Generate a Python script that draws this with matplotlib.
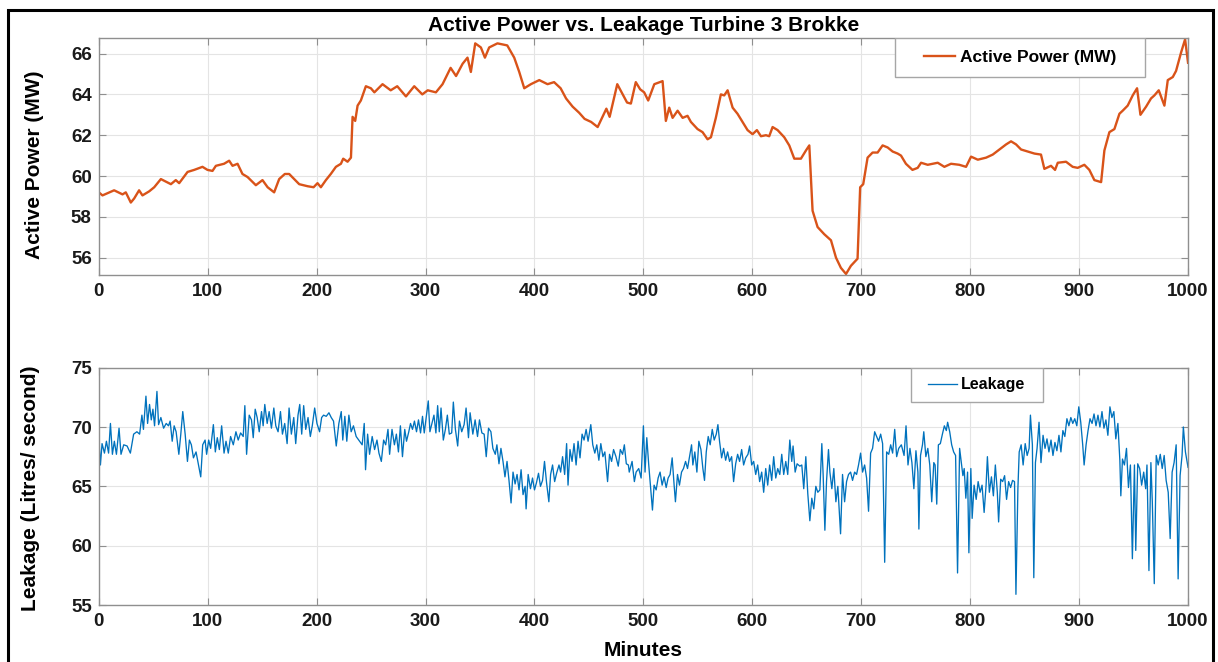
import matplotlib
matplotlib.use("Agg")
import matplotlib.pyplot as plt
from matplotlib.patches import Rectangle

# active power
power_t = [0, 3.4, 14.1, 21.8, 24.8, 29.4, 32.5, 37, 40.1, 46.3, 50.9, 57, 66.2, 70.7, 73.8,
           81.5, 87.6, 95.2, 99.8, 104.4, 107.5, 115, 119.7, 122.8, 127.4, 131.9, 136.6, 144.2,
           150.3, 155, 161, 165.6, 170.8, 174.8, 179.4, 184, 191.7, 197.2, 200.8, 203.9, 208.5,
           213, 217.7, 222.3, 224.4, 228.4, 231.5, 233, 235.4, 237.6, 240.6, 245.2, 249.8,
           253, 260.5, 268, 274, 282, 289.6, 297, 302, 309.5, 315.6, 323, 328, 334, 338.5,
           341.6, 345.6, 350.8, 354.5, 358.4, 366, 375, 381.4, 386, 390.6, 396.7, 404.4, 412,
           418, 424, 429, 435, 441, 446, 452, 458, 466, 469, 476, 485,
           488.5, 493, 497, 500.7, 504.4, 510, 517.6, 520.6, 523.7, 526.8, 531.4, 536, 540.5,
           543.6, 549.7, 554.3, 558.9, 562, 566.5, 571.1, 574.2, 577.3, 581.9, 586.4, 591,
           595.6, 600.2, 604.2, 607.9, 612.5, 615.5, 618.6, 623.2, 629.3, 633.9, 638.5, 644.6,
           649.2, 652.3, 655.3, 659.9, 666, 672.2, 676.8, 681.3, 686, 690.5, 696.6, 699, 701.8,
           705.8, 710.4, 715, 719.6, 724.2, 728.8, 733.4,
           736.5, 741, 747, 751.8, 754.9, 761, 770.2, 776.3, 782.4, 790, 796.2, 800.8, 807,
           814.6, 820.7, 826.8, 833, 837.5, 842.1, 846.7, 852.8, 859, 865, 868.1, 874.2, 877.9,
           880.4, 888, 894.1, 898.7, 904.8, 909.4, 914, 920.2, 923.2, 927.8, 932.4, 937, 940,
           944.6, 949.2, 953.2, 956.3, 961.5, 966, 969.1, 973.1, 978.3, 981.4, 986, 989, 993.6,
           997.3, 1000]
power_mw = [59.2, 59.05, 59.3, 59.1, 59.2, 58.7, 58.9, 59.3, 59.05, 59.25, 59.45, 59.85, 59.6, 59.8, 59.65,
            60.2, 60.3, 60.45, 60.3, 60.25, 60.5, 60.6, 60.75, 60.5, 60.6, 60.1, 59.95, 59.55,
            59.8, 59.45, 59.2, 59.85, 60.1, 60.1, 59.85, 59.6, 59.5, 59.45, 59.65, 59.45, 59.8,
            60.1, 60.45, 60.6, 60.85, 60.7, 60.9, 62.9, 62.7, 63.45, 63.7, 64.4, 64.3,
            64.1, 64.5, 64.2, 64.4, 63.9, 64.4, 64.0, 64.2, 64.1, 64.5, 65.3, 64.9, 65.5, 65.8,
            65.1, 66.5, 66.3, 65.8, 66.3, 66.5, 66.4, 65.8, 65.1, 64.3, 64.5, 64.7, 64.5,
            64.6, 64.3, 63.8, 63.4, 63.1, 62.8, 62.65, 62.4, 63.3, 62.9, 64.5, 63.6,
            63.55, 64.6, 64.25, 64.1, 63.7, 64.5, 64.65, 62.7, 63.35, 62.85, 63.2, 62.85, 62.95,
            62.65, 62.3, 62.15, 61.8, 61.9, 62.85, 64.0, 63.95, 64.2, 63.35, 63.05, 62.65,
            62.25, 62.05, 62.25, 61.95, 62.0, 61.95, 62.4, 62.25, 61.9, 61.5, 60.85, 60.85,
            61.25, 61.5, 58.3, 57.5, 57.15, 56.85, 56.0, 55.5, 55.2, 55.6, 55.95, 59.45, 59.6,
            60.9, 61.15, 61.15, 61.5, 61.4, 61.2, 61.1,
            61.0, 60.6, 60.3, 60.4, 60.65, 60.55, 60.65, 60.45, 60.6, 60.55, 60.45, 60.95, 60.8,
            60.9, 61.05, 61.3, 61.55, 61.7, 61.55, 61.3, 61.2, 61.1, 61.05, 60.35, 60.5, 60.3,
            60.65, 60.7, 60.45, 60.4, 60.55, 60.3, 59.8, 59.7, 61.25, 62.15, 62.3, 63.05, 63.2,
            63.45, 63.95, 64.3, 63.0, 63.4, 63.8, 63.95, 64.2, 63.45, 64.7, 64.85, 65.15, 66.05,
            66.7, 65.55]

# leakage
leak_t = [0, 1.5, 3, 5.2, 7, 9, 10.7, 12.5, 14.3, 16.2, 18.6, 20.4, 22.9, 26, 29, 32, 35, 37.5,
          39.6, 41, 43.3, 44.8, 46.6, 48.2, 49.7, 51.2, 53.4, 54.9, 57, 59.5, 61.9, 64, 65.5,
          67.4, 69.2, 71, 73.5, 75.3, 77.1, 79.3, 81.4, 83.2, 85, 86.9, 89.3, 91.5, 93.6, 95.4,
          97.6, 99, 100.9, 102.7, 105.2, 107, 108.8, 110.7, 112.8, 115, 116.8, 118.9, 121,
          123.5, 125.9, 128, 130.2, 132.6, 134.1, 135.7, 138.1, 140.2, 141.8, 143.6, 145.4,
          147.3, 149.4, 150.9, 152.4, 154.6, 156.4, 158.5, 160.7, 162.5, 164.6, 166.8, 168.6,
          170.7, 172.9, 174.7, 176.8, 179, 180.8, 182.9, 184.5, 186.3, 188.1, 190, 192.1,
          194.2, 196, 198.2, 200.3, 202.7, 204.6, 206.4, 208.8, 211.3, 213.4, 215.5, 218,
          220.4, 222.6, 224, 225.9, 227.7, 229.6, 231.7, 233.8, 236.3,
          239.4, 241.8, 243.7, 244.9, 246.8, 248.6, 251, 253.2, 255.4, 257.2, 259.4, 261.5,
          263.4, 265.5, 267, 269.2, 271.4, 273.2, 275.1, 276.9, 278.8, 280.9, 282.5, 284.6,
          286.2, 288, 289.8, 291.7, 293.5, 295.4, 297.2, 298.8, 300.3, 302.5, 304, 305.8,
          307.7, 309.5, 311.1, 312.6, 314.2, 316.3, 318.2, 320, 321.8, 324, 325.5, 327.4,
          329.5, 331.1, 333.2, 335.4, 337.2, 339.4, 340.9, 343.4, 345.5, 347.7, 349.5, 351.7,
          353.8, 355.7, 357.8, 360, 361.8, 364, 365.5, 367.4, 369.2, 371.1, 372.9, 374.8,
          376.6, 378.5, 380.3, 382.2, 384, 385.8, 387.7, 389.5, 391.4, 392.3, 394.2, 396.3,
          398.2, 400, 401.8, 403.7, 405.5, 407.4, 409.2, 411.1, 413.2, 414.8, 416.6, 418.5,
          420.3, 422.5, 424, 425.8, 427.7, 429.5, 430.8, 432.6, 434.5, 436.3, 438.2, 440,
          441.8, 443.7, 445.5, 447.4, 449.2, 451.7, 453.5, 455.4, 457.2, 459.1, 460.9, 462.8,
          464.6, 467.1, 468.9, 470.8, 472.6, 474.8, 476.9, 478.8, 480.9, 482.5, 484.3, 486.2,
          487, 489.6, 491.7, 493.3, 495.7, 497.9, 500, 501.5, 503.1, 504.9, 506.4, 508.3,
          509.8, 511.7, 513.5, 515.3, 517.2, 519, 520.9, 522.7, 524.5, 526.4, 528.2, 529.4,
          531.3, 533.1, 535, 536.8, 538.7, 540.5, 542.3, 544.2, 545.4, 547.2, 549.1, 550.9,
          552.8, 554.6, 556.1, 557.7, 559.5, 561.3, 563.2, 565, 566.9, 568.4, 569.9, 571.8,
          573.6, 575.5, 577.3, 579.1, 581, 582.8, 584.7, 586.5, 588.3, 590.2, 592, 593.9, 596,
          597.5, 599.4, 601.2, 603.1, 604.9, 606.7, 608.6, 610.4, 612.3, 614.1, 615.9, 617.8,
          619.6, 621.5, 623.3, 625.2, 627, 628.8, 630.7, 632.5, 634.4, 636.2, 637.4, 639.3,
          641.1, 643.6, 645.4, 647.2, 649.1, 650.9, 652.8, 654.6, 656.4, 658.3, 660.1, 662,
          663.8, 665, 666.6, 668.1, 669.9, 671.2, 673, 674.8, 676.7, 678.5, 681, 682.8, 684.7,
          686.5, 688.3, 690.2, 692, 693.9, 695.7, 697.5, 699.4, 701.2, 703.1, 704.9, 706.7,
          708.6, 710.4, 712.3, 714.1, 715.9, 717.8, 719.6, 721.5, 723.3, 725.2, 727, 728.8,
          730.7, 732.5, 734.4,
          736.8, 739.3, 741.1, 742.9, 744.7, 746.5, 748.3, 750.2, 752, 752.9, 754.4, 756.2,
          757.4, 759.3, 761.1, 762.9, 764.7, 766.6, 767.8, 769.3, 770.8, 772.6, 774.5, 776.3,
          778.1, 779.3, 781.2, 783, 784.8, 786.6, 788.4, 790.3, 791.5, 793.3, 794.5, 796,
          797.6, 798.8, 800.6, 801.8, 803.6, 805.5, 807.3, 809.1, 810.9, 812.8, 814.6, 815.8,
          817.6, 819.5, 821.3, 823.1, 824.9, 826.1, 828, 829.8, 831.6, 833.4, 835.3, 837.1,
          838.9, 840.7, 842, 843.8, 845, 846.8, 848.6, 850.5, 852.3, 854.1, 855.3, 857.1,
          858.4, 859.9, 861.4, 863.2, 865, 866.9, 868.7, 870.5, 872.3, 874.2, 876, 877.8,
          879.6, 881.5, 883.3, 885.1, 886.9, 888.8, 890.6, 892.4, 894.2, 896, 897.9, 899.7,
          901.5, 903.3, 904.6, 906.4, 908.2, 910, 911.9, 913.7, 915.5, 917.3, 919.1, 921,
          922.8, 924.6, 926.4, 928.3, 930.1, 931.9, 933.7, 935.6, 937.4, 938.3, 939.8, 941.6,
          943.5, 945.3, 947.1, 948.9, 950.8, 952, 953.8, 955.6, 957.4, 959.3, 961.1, 962.3,
          964.1, 965.9, 967.2, 969, 970.8, 972.6, 974.5, 976.3, 978.1, 979.9, 981.8, 983.6,
          985.4, 987.2, 989.1, 990.9, 992.7, 994.5, 995.7, 997.6, 1000]
leak_lps = [69.2, 66.8, 68.6, 67.8, 68.8, 67.8, 70.3, 67.7, 68.8, 67.7, 69.9, 67.7, 68.5, 68.4, 67.8, 69.4, 69.6, 69.4,
            71.0, 69.8, 72.6, 70.3, 71.9, 70.6, 71.5, 70.1, 73.0, 70.2, 70.8, 69.9, 70.3, 70.1, 70.5,
            68.8, 70.1, 69.6, 67.7, 69.4, 71.3, 69.4, 67.1, 68.9, 68.5, 67.4, 67.9, 66.8, 65.8, 68.5,
            68.9, 67.7, 68.9, 68.2, 70.2, 67.9, 69.1, 68.1, 70.1, 67.8, 68.8, 67.8, 69.2,
            68.5, 69.6, 68.9, 69.5, 69.2, 71.8, 67.7, 71.0, 70.6, 69.1, 71.5, 70.8,
            69.6, 71.3, 70.1, 71.9, 70.3, 71.3, 69.9, 71.6, 70.1, 69.6, 71.3, 69.4,
            70.3, 68.6, 71.6, 69.4, 70.8, 68.6, 71.0, 71.9, 69.4, 71.8, 69.8, 70.8,
            69.2, 70.1, 71.6, 70.3, 69.6, 70.8, 71.0, 70.9, 71.2, 70.8, 70.5, 68.4,
            70.3, 71.3, 68.9, 70.9, 68.8, 71.0, 69.6, 70.1, 69.2,
            68.8, 68.5, 70.3, 66.4, 69.4, 67.7, 69.2, 68.1, 68.9, 67.8, 67.1, 68.9,
            68.5, 69.8, 67.7, 69.8, 68.5, 69.4, 67.9, 70.1, 67.5, 69.8, 68.8, 69.6,
            70.3, 69.8, 70.5, 69.6, 70.6, 69.5, 70.9, 69.5, 70.6, 72.2, 69.6, 70.3,
            71.0, 69.5, 71.8, 69.6, 71.6, 68.9, 69.8, 71.0, 69.4, 69.5, 72.1, 69.8,
            68.4, 70.5, 69.6, 70.2, 71.6, 69.1, 71.2, 69.4, 70.6, 69.2, 70.6, 69.5,
            69.4, 67.5, 69.9, 69.6, 68.2, 67.7, 68.5, 66.9, 68.2, 67.1, 65.8, 67.1,
            65.5, 63.6, 66.2, 65.2, 66.0, 64.7, 66.4, 64.3, 65.0, 63.1, 66.0, 64.8,
            65.7, 64.7, 65.3, 66.1, 65.0, 65.5, 67.1, 65.3, 63.7, 66.0, 66.8, 65.4,
            66.1, 66.8, 66.2, 67.5, 66.0, 68.6, 65.1, 68.1, 67.1, 68.6, 66.8, 68.8,
            67.4, 69.4, 68.9, 69.8, 68.8, 70.2, 68.5, 67.8, 68.5, 67.2, 68.6, 67.5,
            67.9, 65.4, 67.7, 67.1, 68.1, 67.5, 66.7, 68.1, 67.7, 68.5, 66.9, 66.8,
            66.2, 67.1, 65.4, 66.2, 66.5, 65.7, 70.1, 66.2, 69.1, 66.8, 65.1, 63.0,
            65.1, 64.7, 65.7, 66.2, 65.1, 65.8, 64.9, 65.7, 66.0, 67.4, 65.1, 63.7,
            66.0, 65.1, 66.2, 66.5, 67.1, 66.5, 67.5, 68.5, 66.8, 67.9, 66.2, 68.8,
            68.1, 66.5, 65.5, 67.9, 69.2, 68.5, 69.8, 68.9, 69.4, 70.2, 68.8, 67.4,
            68.2, 67.2, 67.9, 67.1, 67.5, 65.4, 66.9, 67.7, 67.1, 68.1, 66.8, 67.4, 67.7,
            68.4, 66.8, 67.1, 66.0, 66.8, 65.4, 66.2, 64.5, 66.5, 65.1, 66.8, 65.5,
            67.5, 65.7, 66.5, 66.0, 67.7, 66.0, 67.1, 66.0, 68.9, 67.1, 68.4, 66.2,
            66.9, 66.7, 66.8, 64.8, 67.5, 64.4, 62.1, 64.0, 63.1, 65.0, 64.5, 64.7,
            68.6, 66.0, 61.3, 65.4, 68.1, 66.2, 64.8, 66.5, 63.7, 65.0, 61.0, 66.0, 63.7,
            65.4, 66.0, 66.2, 65.5, 66.2, 66.0, 66.8, 67.8, 66.2, 66.8, 65.7, 62.9,
            67.8, 68.2, 69.6, 69.2, 68.8, 69.4, 68.6, 58.6, 67.9, 67.7, 68.5, 67.8,
            69.8, 67.5, 68.2,
            68.5, 67.6, 70.1, 66.8, 68.2, 67.0, 64.8, 68.0, 66.2, 61.4, 67.6, 68.5,
            69.6, 67.5, 68.2, 66.8, 63.7, 67.0, 66.8, 63.5, 68.5, 68.6, 69.4, 70.1,
            69.7, 70.4, 69.6, 68.5, 67.9, 67.6, 57.7, 68.2, 67.3, 65.9, 66.5, 64.0,
            66.2, 59.4, 66.5, 62.3, 65.1, 63.9, 65.4, 64.5, 65.1, 62.8, 65.1, 67.5,
            64.5, 65.8, 64.2, 66.8, 64.5, 62.0, 65.6, 65.4, 65.9, 63.9, 65.4, 64.9,
            65.5, 65.4, 55.9, 64.8, 67.9, 68.5, 66.8, 68.6, 67.6, 68.2, 71.0, 68.5,
            57.3, 67.0, 68.2, 70.4, 67.0, 69.3, 68.2, 69.0, 67.9, 68.9, 67.6, 68.7,
            68.0, 69.3, 67.9, 69.7, 69.2, 70.7, 70.1, 70.8, 70.3, 70.7, 70.1, 71.7,
            70.4, 68.5, 66.8, 68.5, 69.7, 70.7, 70.3, 71.1, 70.1, 71.0, 70.0, 71.3,
            69.9, 70.6, 69.3, 71.7, 70.8, 71.3, 69.0, 70.3, 67.2, 64.2, 67.3, 66.8,
            68.2, 64.9, 66.8, 58.9, 66.8, 59.6, 66.9, 66.5, 65.1, 66.2, 64.8, 66.8,
            57.9, 67.0, 63.7, 56.8, 67.6, 66.8, 67.7, 66.5, 67.6, 65.5, 64.5, 60.6,
            66.2, 67.0, 68.5, 57.2, 65.9, 67.6, 70.0, 67.9, 66.6]

power_color = "#D95319"
leak_color = "#0072BD"
x_ticks = list(range(0, 1001, 100))

plt.rcParams["font.family"] = ["Liberation Sans", "DejaVu Sans"]
plt.rcParams["font.weight"] = "bold"

fig = plt.figure(figsize=(12.18, 6.62), dpi=100)
ax1 = fig.add_axes([0.0811, 0.5846, 0.8943, 0.3576])
ax2 = fig.add_axes([0.0811, 0.0861, 0.8943, 0.3585])


def style(ax):
    ax.set_xlim(0, 1000)
    ax.set_xticks(x_ticks)
    ax.grid(True, color="#e4e4e4", linewidth=0.8)
    ax.set_axisbelow(True)
    for s in ax.spines.values():
        s.set_color("#8f8f8f")
        s.set_linewidth(1.0)
    ax.tick_params(direction="in", length=5, width=0.8, color="#8f8f8f",
                   top=True, right=True, labelsize=13.5, labelcolor="#1a1a1a")
    ax.tick_params(axis="x", pad=6)
    ax.tick_params(axis="y", pad=5)
    for lab in ax.get_xticklabels() + ax.get_yticklabels():
        lab.set_fontweight("bold")


ax1.plot(power_t, power_mw, color=power_color, linewidth=1.7, label="Active Power (MW)")
ax1.set_ylim(55.15, 66.75)
ax1.set_yticks([56, 58, 60, 62, 64, 66])
style(ax1)
ax1.set_title("Active Power vs. Leakage Turbine 3 Brokke", fontsize=15, fontweight="bold", pad=5)
ax1.set_ylabel("Active Power (MW)", fontsize=15, fontweight="bold")
ax1.yaxis.set_label_coords(-0.05, 0.465)

ax2.plot(leak_t, leak_lps, color=leak_color, linewidth=0.95, label="Leakage")
ax2.set_ylim(55, 75)
ax2.set_yticks([55, 60, 65, 70, 75])
style(ax2)
ax2.set_ylabel("Leakage (Litres/ second)", fontsize=15, fontweight="bold")
ax2.yaxis.set_label_coords(-0.054, 0.49)
ax2.set_xlabel("Minutes", fontsize=15, fontweight="bold", va="top")
ax2.xaxis.set_label_coords(0.5, -0.152)

# MATLAB style legend boxes
for ax, (x0, y0, w, h), fs in [(ax1, (0.731, 0.835, 0.2295, 0.165), 12.5),
                               (ax2, (0.746, 0.857, 0.1205, 0.143), 11.5)]:
    ax.add_patch(Rectangle((x0, y0), w, h, transform=ax.transAxes, facecolor="white",
                           edgecolor="#a6a6a6", linewidth=1.0, zorder=5))
    leg = ax.legend(loc="center", bbox_to_anchor=(x0 + w / 2, y0 + h / 2), frameon=False,
                    fontsize=fs, handlelength=1.8, handletextpad=0.25, borderpad=0.2,
                    prop={"weight": "bold", "size": fs})
    leg.set_zorder(6)

# black frame around the figure
fig.add_artist(Rectangle((0.0066, -0.02), 0.9897, 1.0049, transform=fig.transFigure,
                         fill=False, edgecolor="black", linewidth=2.2))

fig.savefig("out.png", dpi=100)
